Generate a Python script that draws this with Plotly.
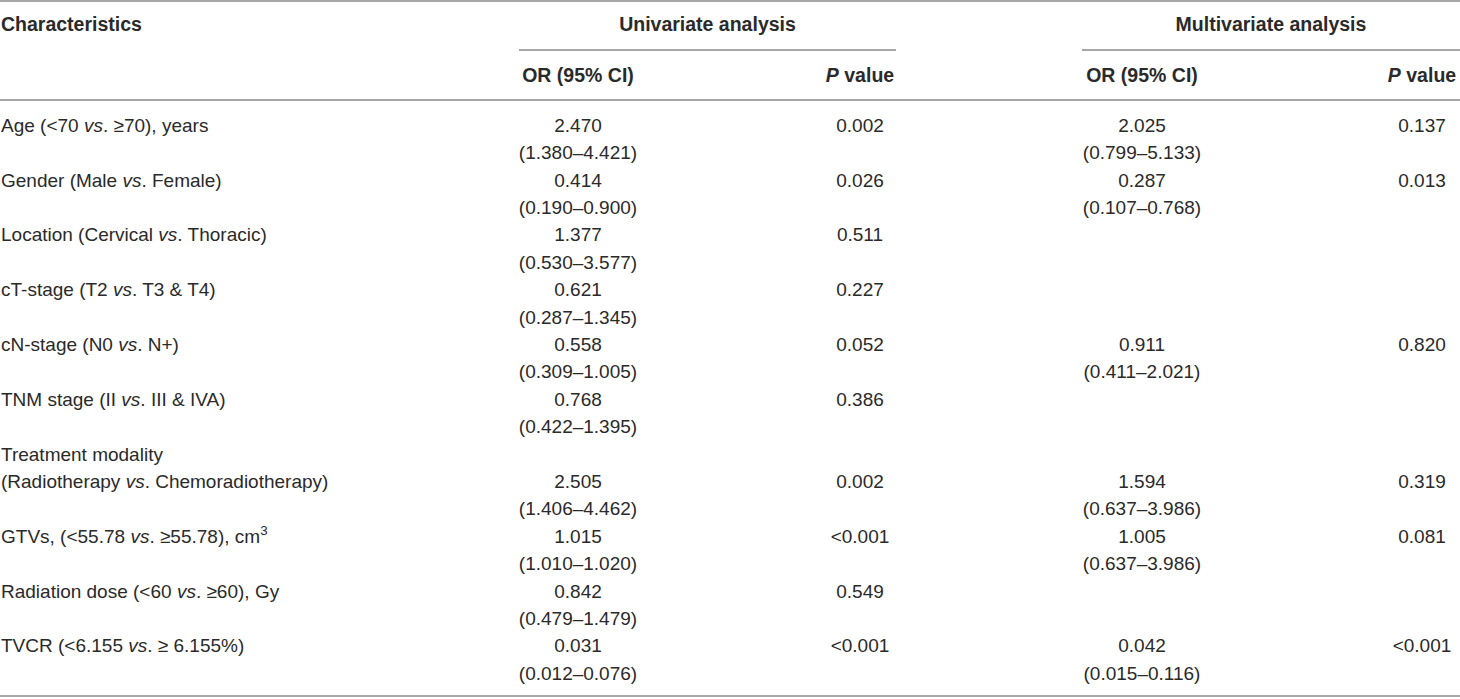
import plotly.graph_objects as go

# table content
characteristics = [
    ['Age (&lt;70 <i>vs</i>. ≥70), years'],
    ['Gender (Male <i>vs</i>. Female)'],
    ['Location (Cervical <i>vs</i>. Thoracic)'],
    ['cT-stage (T2 <i>vs</i>. T3 &amp; T4)'],
    ['cN-stage (N0 <i>vs</i>. N+)'],
    ['TNM stage (II <i>vs</i>. III &amp; IVA)'],
    ['Treatment modality', '(Radiotherapy <i>vs</i>. Chemoradiotherapy)'],
    ['GTVs, (&lt;55.78 <i>vs</i>. ≥55.78), cm<sup>3</sup>'],
    ['Radiation dose (&lt;60 <i>vs</i>. ≥60), Gy'],
    ['TVCR (&lt;6.155 <i>vs</i>. ≥ 6.155%)'],
]
uni_or = ['2.470', '0.414', '1.377', '0.621', '0.558', '0.768', '2.505', '1.015', '0.842', '0.031']
uni_ci = ['(1.380–4.421)', '(0.190–0.900)', '(0.530–3.577)', '(0.287–1.345)', '(0.309–1.005)',
          '(0.422–1.395)', '(1.406–4.462)', '(1.010–1.020)', '(0.479–1.479)', '(0.012–0.076)']
uni_p = ['0.002', '0.026', '0.511', '0.227', '0.052', '0.386', '0.002', '&lt;0.001', '0.549', '&lt;0.001']
multi_or = ['2.025', '0.287', None, None, '0.911', None, '1.594', '1.005', None, '0.042']
multi_ci = ['(0.799–5.133)', '(0.107–0.768)', None, None, '(0.411–2.021)', None,
            '(0.637–3.986)', '(0.637–3.986)', None, '(0.015–0.116)']
multi_p = ['0.137', '0.013', None, None, '0.820', None, '0.319', '0.081', None, '&lt;0.001']

groups = ['Univariate analysis', 'Multivariate analysis']
subheaders = ['OR (95% CI)', '<i>P</i> value', 'OR (95% CI)', '<i>P</i> value']

W, H = 1460, 699
FONT = 'Liberation Sans, Arial, sans-serif'
TXT = '#2a2a2a'
RULE = '#8a8a8a'

# layout of the table in pixels
x_label = 1
x_cols = [578, 860, 1142, 1422]
group_spans = [(519, 896), (1082, 1460)]
y_head, y_group_rule, y_sub, y_head_rule = 26, 50, 77, 100
y_first, pitch = 127, 27.4

# work out which text line each cell sits on
label_x, label_y, label_t = [], [], []
cols = [([], [], []) for _ in range(4)]
line = 0
for i, lab in enumerate(characteristics):
    for j, t in enumerate(lab):
        label_x.append(x_label)
        label_y.append(y_first + pitch * (line + j))
        label_t.append(t)
    vline = line + len(lab) - 1
    for c, (main, ci) in enumerate([(uni_or, uni_ci), (uni_p, None), (multi_or, multi_ci), (multi_p, None)]):
        xs, ys, ts = cols[c]
        if main[i] is not None:
            xs.append(x_cols[c]); ys.append(y_first + pitch * vline); ts.append(main[i])
        if ci is not None and ci[i] is not None:
            xs.append(x_cols[c]); ys.append(y_first + pitch * (vline + 1)); ts.append(ci[i])
    line = vline + 2
y_bottom = y_first + pitch * (line - 1) + 21

fig = go.Figure()

def text_trace(xs, ys, ts, pos, size=19):
    fig.add_trace(go.Scatter(
        x=xs, y=ys, text=ts, mode='text', textposition=pos,
        textfont=dict(family=FONT, size=size, color=TXT),
        marker=dict(size=0), hoverinfo='skip', showlegend=False,
    ))

# body
text_trace(label_x, label_y, label_t, 'middle right')
for xs, ys, ts in cols:
    text_trace(xs, ys, ts, 'middle center')

# headers
text_trace([x_label], [y_head], ['<b>Characteristics</b>'], 'middle right', 19.5)
text_trace([(a + b) / 2 for a, b in group_spans], [y_head] * 2,
           ['<b>%s</b>' % g for g in groups], 'middle center', 19.5)
text_trace(x_cols, [y_sub] * 4, ['<b>%s</b>' % s for s in subheaders], 'middle center', 19.5)

# rules
rules = [(0, W, 1), (0, W, y_head_rule), (0, W, y_bottom)]
rules += [(a, b, y_group_rule) for a, b in group_spans]
for x0, x1, y in rules:
    fig.add_shape(type='line', x0=x0, x1=x1, y0=y, y1=y, xref='x', yref='y',
                  line=dict(color=RULE, width=1.5))

fig.update_xaxes(range=[0, W], visible=False, fixedrange=True)
fig.update_yaxes(range=[H, 0], visible=False, fixedrange=True)
fig.update_layout(
    width=W, height=H, margin=dict(l=0, r=0, t=0, b=0),
    paper_bgcolor='white', plot_bgcolor='white',
)

# drop the default page margin so the table sits flush like the original
fig.write_html('out.html', config={'displayModeBar': False},
               post_script="document.body.style.margin='0';")
